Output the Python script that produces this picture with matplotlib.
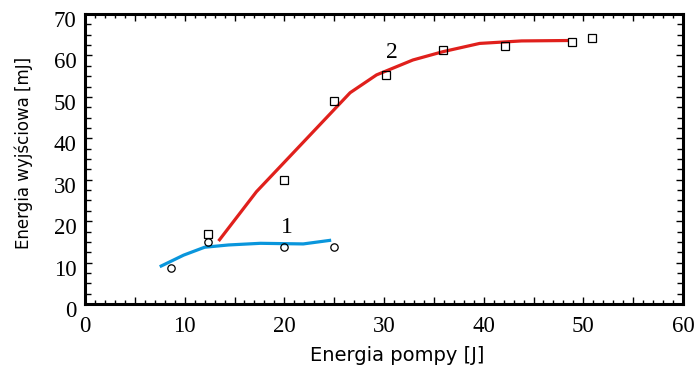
import matplotlib
matplotlib.use("Agg")
import matplotlib.pyplot as plt
import matplotlib.transforms as mtransforms
from matplotlib.ticker import MultipleLocator, FuncFormatter

# Curve 1 (blue line) and its measured points (circles)
line1_x = [7.5, 9.9, 12.0, 14.4, 17.6, 21.9, 24.7]
line1_y = [9.0, 11.8, 13.7, 14.25, 14.65, 14.5, 15.4]
pts1_x = [8.6, 12.3, 20.0, 25.0]
pts1_y = [8.8, 15.05, 13.85, 13.7]

# Curve 2 (red line) and its measured points (squares)
line2_x = [13.4, 17.2, 26.6, 29.25, 32.9, 35.9, 39.6, 43.8, 48.5]
line2_y = [15.2, 27.1, 51.0, 55.3, 58.9, 60.9, 62.9, 63.5, 63.6]
pts2_x = [12.3, 20.0, 25.0, 30.2, 35.9, 42.1, 48.9, 50.9]
pts2_y = [16.8, 29.9, 49.1, 55.3, 61.2, 62.3, 63.3, 64.3]

xlabel = "Energia pompy [J]"
ylabel = "Energia wyjściowa [mJ]"

fig = plt.figure(figsize=(6.95, 3.65), dpi=100)
ax = fig.add_axes([85/695, 61/365, 598/695, 290/365])

blue = "#0a96dc"
red = "#e0201c"
ax.plot(line1_x, line1_y, color=blue, lw=2.3, solid_capstyle="butt", zorder=2)
ax.plot(line2_x, line2_y, color=red, lw=2.3, solid_capstyle="butt", zorder=2)
ax.plot(pts1_x, pts1_y, ls="none", marker="o", ms=5.3, mfc="none", mec="black", mew=0.9, zorder=3)
ax.plot(pts2_x, pts2_y, ls="none", marker="s", ms=5.3, mfc="none", mec="black", mew=0.9, zorder=3)

serif = ["Liberation Serif", "DejaVu Serif"]
ax.text(20.3, 18.5, "1", fontsize=17, family=serif, ha="center", va="center")
ax.text(30.75, 60.7, "2", fontsize=17, family=serif, ha="center", va="center")

ax.set_xlim(0, 60)
ax.set_ylim(0, 70)

ax.xaxis.set_major_locator(MultipleLocator(5))
ax.xaxis.set_minor_locator(MultipleLocator(1))
ax.xaxis.set_major_formatter(FuncFormatter(lambda v, p: f"{int(round(v))}" if round(v) % 10 == 0 else ""))
ax.yaxis.set_major_locator(MultipleLocator(10))
ax.yaxis.set_minor_locator(MultipleLocator(2.5))

for s in ax.spines.values():
    s.set_linewidth(2.2)

ax.tick_params(which="both", direction="in", top=True, right=True, width=1.0, color="black")
ax.tick_params(axis="x", which="major", length=5, pad=9)
ax.tick_params(axis="x", which="minor", length=3)
ax.tick_params(axis="y", which="major", length=5, pad=6)
ax.tick_params(axis="y", which="minor", length=4)

fig.canvas.draw()
for lab in ax.get_xticklabels() + ax.get_yticklabels():
    lab.set_family(serif)
    lab.set_fontsize(16.5)

# shift y tick labels slightly down, as in the reference
dy = mtransforms.ScaledTranslation(0, -5/100, fig.dpi_scale_trans)
for lab in ax.get_yticklabels():
    lab.set_transform(lab.get_transform() + dy)

ax.set_xlabel(xlabel, fontsize=14, family=["DejaVu Sans"])
ax.set_ylabel(ylabel, fontsize=12, family=["DejaVu Sans"])
ax.xaxis.set_label_coords(0.5226, -0.145)
ax.yaxis.set_label_coords(-0.087, 0.522)

fig.savefig("out.png", dpi=100)
